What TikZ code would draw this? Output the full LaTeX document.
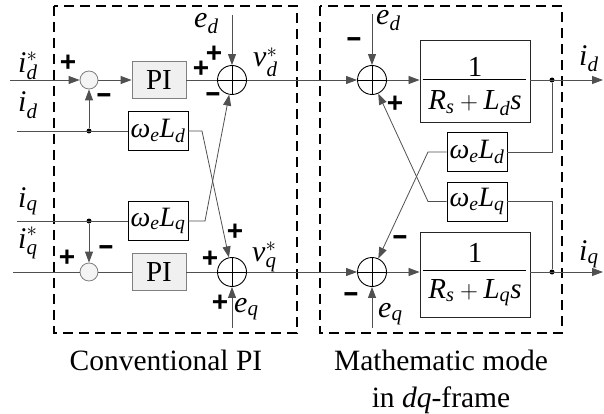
\documentclass[tikz,border=0pt]{standalone}
\usepackage{fontspec}
\usepackage{amsmath}
\usepackage{graphicx}
\setmainfont{Liberation Serif}
\newfontfamily\signfont{Liberation Sans}
\usetikzlibrary{arrows.meta,calc}
\newcommand{\itl}[1]{\text{\itshape #1}}
\definecolor{linegray}{HTML}{505050}
\definecolor{boxgray}{HTML}{808080}
\definecolor{pifill}{HTML}{F0F0F0}
\definecolor{sumfill}{HTML}{F4F4F4}
\tikzset{
  sig/.style={draw=linegray, line width=0.8pt},
  arr/.style={sig, -{Triangle[length=11pt,width=8pt]}},
  pibox/.style={draw=boxgray, fill=pifill, line width=0.8pt, minimum width=54pt, minimum height=37pt, inner sep=0pt, font=\fontsize{29}{31}\selectfont},
  gainbox/.style={draw=black, line width=0.8pt, minimum width=60pt, minimum height=39pt, inner sep=0pt, font=\fontsize{28}{30}\selectfont},
  tfbox/.style={draw=black!85, line width=0.9pt, minimum width=110pt, inner sep=0pt},
  smallsum/.style={circle, draw=boxgray, fill=sumfill, line width=0.8pt, minimum size=18pt, inner sep=0pt},
  bigsum/.style={circle, draw=black, line width=0.9pt, minimum size=29pt, inner sep=0pt,
    path picture={\draw[black, line width=0.8pt] (path picture bounding box.north) -- (path picture bounding box.south)
      (path picture bounding box.west) -- (path picture bounding box.east);}},
  jdot/.style={circle, fill=black, minimum size=5pt, inner sep=0pt},
  lbl/.style={inner sep=0pt, font=\fontsize{30}{34}\selectfont},
  tftext/.style={inner sep=0pt, font=\fontsize{29}{31}\selectfont},
  sgn/.style={inner sep=0pt, font=\signfont\bfseries\fontsize{28}{30}\selectfont},
  region/.style={draw=black, dash pattern=on 10pt off 6pt, line width=1.6pt},
  caption/.style={inner sep=0pt, font=\fontsize{29.5}{34}\selectfont},
}
\begin{document}
\begin{tikzpicture}[x=1pt,y=-1pt]
\useasboundingbox (0,0) rectangle (604,414);
% dashed regions
\draw[region] (54,6) rectangle (297,333);
\draw[region] (320,6) rectangle (562,333);

% ---------- left: conventional PI ----------
\node[smallsum] (ssd) at (89,80) {};
\node[smallsum] (ssq) at (89,272) {};
\node[pibox] (pid) at (159,80) {PI};
\node[pibox] (piq) at (159,272) {PI};
\node[bigsum] (bsd) at (232,80) {};
\node[bigsum] (bsq) at (232,272) {};
\node[gainbox] (gLd) at (158,131) {$\itl{ω}_{\itl{e}}\itl{L}_{\itl{d}}$};
\node[gainbox] (gLq) at (158,221) {$\itl{ω}_{\itl{e}}\itl{L}_{\itl{q}}$};
\node[jdot] (jd1) at (89,131) {};
\node[jdot] (jq1) at (89,221) {};

\coordinate (idsIn) at (10,80);
\coordinate (idIn) at (17,131);
\coordinate (iqIn) at (17,221);
\coordinate (iqsIn) at (13,272);
\coordinate (edTopL) at (232,15);
\coordinate (eqBotL) at (232,328);
\coordinate (c1) at (202,131);
\coordinate (c2) at (205,221);

% ---------- right: mathematic model ----------
\node[bigsum] (rsd) at (372,80) {};
\node[bigsum] (rsq) at (372,272) {};
\node[tfbox, minimum height=82pt] (tfd) at (475,81) {};
\node[tfbox, minimum height=85pt] (tfq) at (475,274.5) {};
\node[gainbox] (gRd) at (477,152) {$\itl{ω}_{\itl{e}}\itl{L}_{\itl{d}}$};
\node[gainbox] (gRq) at (477,201.5) {$\itl{ω}_{\itl{e}}\itl{L}_{\itl{q}}$};
\node[jdot] (jd2) at (552,80) {};
\node[jdot] (jq2) at (552,272) {};
\coordinate (edTopR) at (372,14);
\coordinate (eqBotR) at (372,328);
\coordinate (idOut) at (603,80);
\coordinate (iqOut) at (603,272);
\coordinate (c3) at (428,152);
\coordinate (c4) at (428,201.5);

% transfer function contents
\node[tftext, anchor=base] (numd) at (475,77) {1};
\node[tftext, anchor=base] (dend) at (475,110) {$\itl{R}_{\itl{s}}+\itl{L}_{\itl{d}}\itl{s}$};
\draw[black, line width=1pt] ([xshift=3pt]tfd.west |- rsd) -- ([xshift=-4pt]tfd.east |- rsd);
\node[tftext, anchor=base] (numq) at (475,262) {1};
\node[tftext, anchor=base] (denq) at (475,298) {$\itl{R}_{\itl{s}}+\itl{L}_{\itl{q}}\itl{s}$};
\draw[black, line width=1pt] ([xshift=3pt]tfq.west |- 0,270) -- ([xshift=-4pt]tfq.east |- 0,270);

% ---------- connectors, left ----------
\draw[arr] (idsIn) -- (ssd);
\draw[arr] (ssd) -- (pid);
\draw[sig] (pid) -- (bsd);
\draw[arr] (edTopL) -- (bsd);
\draw[sig] (idIn) -- (gLd);
\draw[arr] (jd1) -- (ssd);
\draw[sig] (iqIn) -- (gLq);
\draw[arr] (jq1) -- (ssq);
\draw[sig] (iqsIn) -- (ssq);
\draw[sig] (ssq) -- (piq);
\draw[sig] (piq) -- (bsq);
\draw[arr] (eqBotL) -- (bsq);
\draw[arr] (gLd.east) -- (c1) -- (bsq);
\draw[arr] (gLq.east) -- (c2) -- (bsd);
\draw[arr] (bsd) -- (rsd);
\draw[arr] (bsq) -- (rsq);

% ---------- connectors, right ----------
\draw[arr] (edTopR) -- (rsd);
\draw[arr] (rsd) -- (rsd -| tfd.west);
\draw[arr] (tfd.east |- rsd) -- (idOut);
\draw[arr] (eqBotR) -- (rsq);
\draw[arr] (rsq) -- (rsq -| tfq.west);
\draw[arr] (tfq.east |- rsq) -- (iqOut);
\draw[sig] (jd2) |- (gRd.east);
\draw[sig] (jq2) |- (gRq.east);
\draw[arr] (gRd.west) -- (c3) -- (rsq);
\draw[arr] (gRq.west) -- (c4) -- (rsd);

% ---------- labels ----------
\node[lbl, anchor=base west] (lids) at (18,73) {$\itl{i}^{*}_{\itl{d}}$};
\node[lbl, anchor=base west] (lid) at (18,112) {$\itl{i}_{\itl{d}}$};
\node[lbl, anchor=base west] (liq) at (18,207) {$\itl{i}_{\itl{q}}$};
\node[lbl, anchor=base west] (liqs) at (18,248) {$\itl{i}^{*}_{\itl{q}}$};
\node[lbl, anchor=base west] (ledL) at (194,28) {$\itl{e}_{\itl{d}}$};
\node[lbl, anchor=base west] (lvd) at (253,67) {$\itl{v}^{*}_{\itl{d}}$};
\node[lbl, anchor=base west] (lvq) at (252,261) {$\itl{v}^{*}_{\itl{q}}$};
\node[lbl, anchor=base west] (leqL) at (234,312) {$\itl{e}_{\itl{q}}$};
\node[lbl, anchor=base west] (ledR) at (376,25) {$\itl{e}_{\itl{d}}$};
\node[lbl, anchor=base west] (leqR) at (378,317) {$\itl{e}_{\itl{q}}$};
\node[lbl, anchor=base west] (lidO) at (579,66) {$\itl{i}_{\itl{d}}$};
\node[lbl, anchor=base west] (liqO) at (579,260) {$\itl{i}_{\itl{q}}$};

% signs
\node[sgn] (s1) at (68,63) {+};
\node[sgn] (s2) at (104,98) {\scalebox{1.8}[1]{-}};
\node[sgn] (s3) at (201,69) {+};
\node[sgn] (s4) at (214,54) {+};
\node[sgn] (s5) at (213,97) {\scalebox{1.8}[1]{-}};
\node[sgn] (s6) at (67,258) {+};
\node[sgn] (s7) at (106,250) {\scalebox{1.8}[1]{-}};
\node[sgn] (s8) at (235,232) {+};
\node[sgn] (s9) at (210,259) {+};
\node[sgn] (s10) at (220,303) {+};
\node[sgn] (s11) at (354,42) {\scalebox{1.8}[1]{-}};
\node[sgn] (s12) at (395,104) {+};
\node[sgn] (s13) at (400,240) {\scalebox{1.8}[1]{-}};
\node[sgn] (s14) at (351,297) {\scalebox{1.8}[1]{-}};

% captions
\node[caption, anchor=base] (capL) at (166,370) {Conventional PI};
\node[caption, anchor=base] (capR1) at (441,370) {Mathematic mode};
\node[caption, anchor=base] (capR2) at (441,407) {in \textit{dq}-frame};
\end{tikzpicture}
\end{document}
